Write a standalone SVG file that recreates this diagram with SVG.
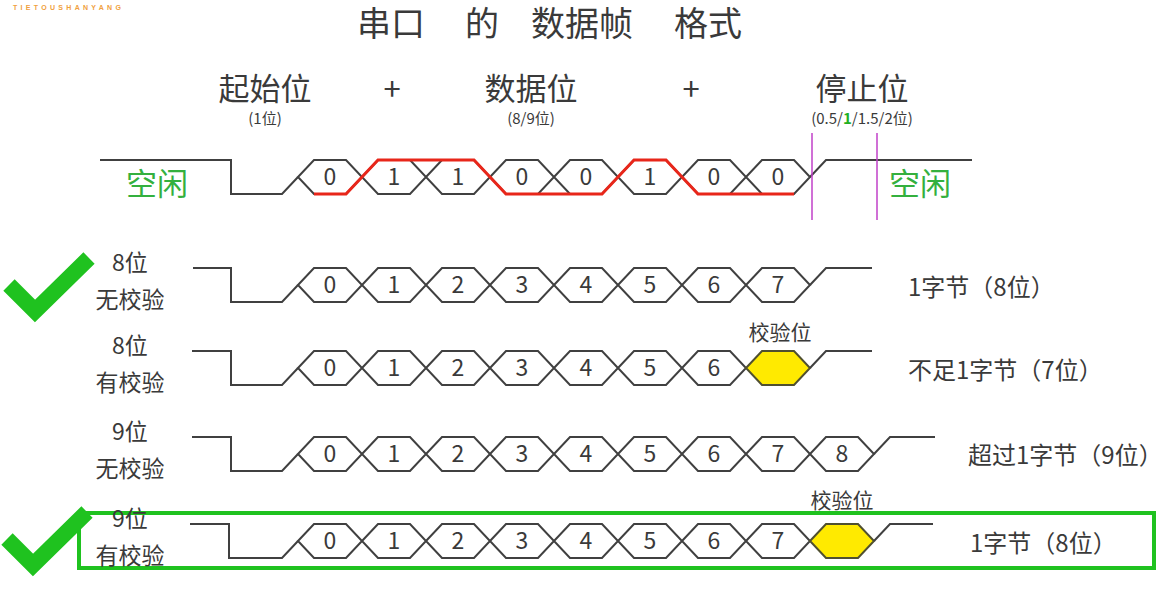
<svg xmlns="http://www.w3.org/2000/svg" xmlns:xlink="http://www.w3.org/1999/xlink" width="1158" height="594" viewBox="0 0 1158 594">
<style>
text{font-family:"Noto Sans CJK SC","Noto Sans",sans-serif;fill:#3a3a3a}
.wave{fill:none;stroke:#404040;stroke-width:2;stroke-linejoin:miter}
.hex{fill:none;stroke:#404040;stroke-width:2}
.par{fill:#ffea00;stroke:#505030;stroke-width:2}
.dig{font-size:23px;text-anchor:middle}
.lbl{font-size:23px;text-anchor:middle}
.rt{font-size:24px}
.hd{font-size:31px;text-anchor:middle}
.sub{font-size:15px;text-anchor:middle}
.idle{font-size:31px;text-anchor:middle;fill:#34b03e}
.chk{fill:none;stroke:#1fc21f;stroke-width:16;stroke-linecap:butt;stroke-linejoin:miter}
.pl{font-size:21px;text-anchor:middle}
</style>
<defs>
<polygon id="hx" points="-32,0 -16,-17 16,-17 32,0 16,17 -16,17"/>
</defs>
<rect width="1158" height="594" fill="#ffffff"/>
<g id="logo"><text x="13" y="10" style="font-family:'Liberation Sans',sans-serif;font-size:7px;letter-spacing:3.3px;fill:#f0a040;font-weight:bold">TIETOUSHANYANG</text></g>
<g id="title">
<text x="357" y="36" style="font-size:34px">串口</text>
<text x="465" y="36" style="font-size:34px">的</text>
<text x="531" y="36" style="font-size:34px">数据帧</text>
<text x="674" y="36" style="font-size:34px">格式</text>
</g>
<g id="headers">
<text class="hd" x="265" y="100">起始位</text>
<text class="sub" x="265" y="124">(1位)</text>
<text class="hd" x="392" y="100">+</text>
<text class="hd" x="531" y="100">数据位</text>
<text class="sub" x="531" y="124">(8/9位)</text>
<text class="hd" x="691" y="100">+</text>
<text class="hd" x="862" y="100">停止位</text>
<text class="sub" x="862" y="124">(0.5/<tspan style="fill:#22b022;font-weight:bold">1</tspan>/1.5/2位)</text>
</g>
<g id="connectors">
<g id="frame-example">
<polyline class="wave" points="100,160 231,160 231,194 282,194 298,177"/>
<use href="#hx" class="hex" x="330" y="177"/><use href="#hx" class="hex" x="394" y="177"/><use href="#hx" class="hex" x="458" y="177"/><use href="#hx" class="hex" x="522" y="177"/><use href="#hx" class="hex" x="586" y="177"/><use href="#hx" class="hex" x="650" y="177"/><use href="#hx" class="hex" x="714" y="177"/><use href="#hx" class="hex" x="778" y="177"/>
<polyline class="wave" points="810,177 826,160 972,160"/>
<path d="M314,194 H346 L378,160 H474 L506,194 H602 L634,160 H666 L698,194 H794" fill="none" stroke="#e8261a" stroke-width="3"/>
<line x1="812" y1="133" x2="812" y2="220" stroke="#c040c8" stroke-width="1.5"/>
<line x1="877" y1="133" x2="877" y2="220" stroke="#c040c8" stroke-width="1.5"/>
</g>
<g id="wave-row1">
<polyline class="wave" points="193,268 231,268 231,302 282,302 298,285"/>
<use href="#hx" class="hex" x="330" y="285"/><use href="#hx" class="hex" x="394" y="285"/><use href="#hx" class="hex" x="458" y="285"/><use href="#hx" class="hex" x="522" y="285"/><use href="#hx" class="hex" x="586" y="285"/><use href="#hx" class="hex" x="650" y="285"/><use href="#hx" class="hex" x="714" y="285"/><use href="#hx" class="hex" x="778" y="285"/>
<polyline class="wave" points="810,285 826,268 872,268"/>
</g>
<g id="wave-row2">
<polyline class="wave" points="192,351 231,351 231,385 282,385 298,368"/>
<use href="#hx" class="hex" x="330" y="368"/><use href="#hx" class="hex" x="394" y="368"/><use href="#hx" class="hex" x="458" y="368"/><use href="#hx" class="hex" x="522" y="368"/><use href="#hx" class="hex" x="586" y="368"/><use href="#hx" class="hex" x="650" y="368"/><use href="#hx" class="hex" x="714" y="368"/>
<use href="#hx" class="par" x="778" y="368"/>
<polyline class="wave" points="810,368 826,351 872,351"/>
</g>
<g id="wave-row3">
<polyline class="wave" points="192,437 231,437 231,471 282,471 298,454"/>
<use href="#hx" class="hex" x="330" y="454"/><use href="#hx" class="hex" x="394" y="454"/><use href="#hx" class="hex" x="458" y="454"/><use href="#hx" class="hex" x="522" y="454"/><use href="#hx" class="hex" x="586" y="454"/><use href="#hx" class="hex" x="650" y="454"/><use href="#hx" class="hex" x="714" y="454"/><use href="#hx" class="hex" x="778" y="454"/><use href="#hx" class="hex" x="842" y="454"/>
<polyline class="wave" points="874,454 890,437 935,437"/>
</g>
<g id="wave-row4">
<polyline class="wave" points="190,524 229,524 229,558 282,558 298,541"/>
<use href="#hx" class="hex" x="330" y="541"/><use href="#hx" class="hex" x="394" y="541"/><use href="#hx" class="hex" x="458" y="541"/><use href="#hx" class="hex" x="522" y="541"/><use href="#hx" class="hex" x="586" y="541"/><use href="#hx" class="hex" x="650" y="541"/><use href="#hx" class="hex" x="714" y="541"/><use href="#hx" class="hex" x="778" y="541"/>
<use href="#hx" class="par" x="842" y="541"/>
<polyline class="wave" points="874,541 890,524 933,524"/>
</g>
</g>
<g id="frame-bits">
<text class="idle" x="157" y="195">空闲</text>
<text class="idle" x="920" y="195">空闲</text>
<text class="dig" x="330" y="185">0</text><text class="dig" x="394" y="185">1</text><text class="dig" x="458" y="185">1</text><text class="dig" x="522" y="185">0</text><text class="dig" x="586" y="185">0</text><text class="dig" x="650" y="185">1</text><text class="dig" x="714" y="185">0</text><text class="dig" x="778" y="185">0</text>
</g>
<g id="row1">
<polyline class="chk" points="9,285 35,311 89,258"/>
<text class="lbl" x="130" y="271">8位</text>
<text class="lbl" x="130" y="308">无校验</text>
<text class="dig" x="330" y="293">0</text><text class="dig" x="394" y="293">1</text><text class="dig" x="458" y="293">2</text><text class="dig" x="522" y="293">3</text><text class="dig" x="586" y="293">4</text><text class="dig" x="650" y="293">5</text><text class="dig" x="714" y="293">6</text><text class="dig" x="778" y="293">7</text>
<text class="rt" x="908" y="296">1字节（8位）</text>
</g>
<g id="row2">
<text class="lbl" x="130" y="354">8位</text>
<text class="lbl" x="130" y="391">有校验</text>
<text class="dig" x="330" y="376">0</text><text class="dig" x="394" y="376">1</text><text class="dig" x="458" y="376">2</text><text class="dig" x="522" y="376">3</text><text class="dig" x="586" y="376">4</text><text class="dig" x="650" y="376">5</text><text class="dig" x="714" y="376">6</text>
<text class="pl" x="780" y="340">校验位</text>
<text class="rt" x="908" y="379">不足1字节（7位）</text>
</g>
<g id="row3">
<text class="lbl" x="130" y="440">9位</text>
<text class="lbl" x="130" y="477">无校验</text>
<text class="dig" x="330" y="462">0</text><text class="dig" x="394" y="462">1</text><text class="dig" x="458" y="462">2</text><text class="dig" x="522" y="462">3</text><text class="dig" x="586" y="462">4</text><text class="dig" x="650" y="462">5</text><text class="dig" x="714" y="462">6</text><text class="dig" x="778" y="462">7</text><text class="dig" x="842" y="462">8</text>
<text class="rt" x="968" y="464">超过1字节（9位）</text>
</g>
<g id="row4">
<polyline class="chk" points="7,539 33,565 87,512"/>
<rect x="79" y="513" width="1075" height="55" fill="none" stroke="#1fc21f" stroke-width="4"/>
<text class="lbl" x="130" y="527">9位</text>
<text class="lbl" x="130" y="564">有校验</text>
<text class="dig" x="330" y="549">0</text><text class="dig" x="394" y="549">1</text><text class="dig" x="458" y="549">2</text><text class="dig" x="522" y="549">3</text><text class="dig" x="586" y="549">4</text><text class="dig" x="650" y="549">5</text><text class="dig" x="714" y="549">6</text><text class="dig" x="778" y="549">7</text>
<text class="pl" x="842" y="508">校验位</text>
<text class="rt" x="970" y="552">1字节（8位）</text>
</g>
</svg>
